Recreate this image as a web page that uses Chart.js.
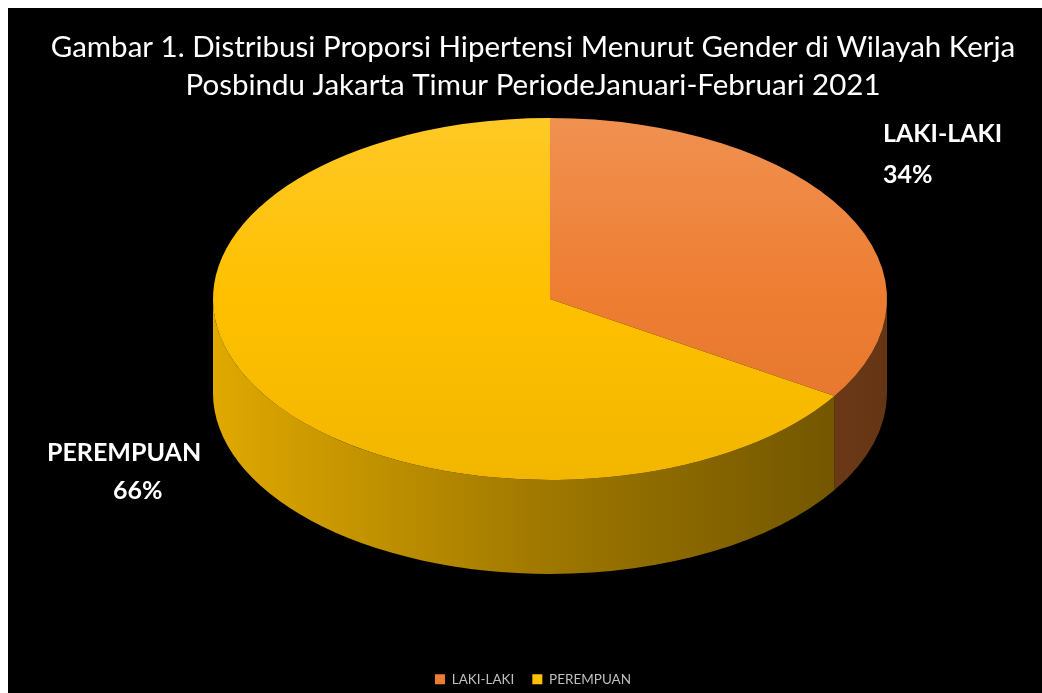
<!DOCTYPE html>
<html>
<head>
<meta charset="utf-8">
<script src="https://cdn.jsdelivr.net/npm/chart.js@4.4.1/dist/chart.umd.min.js"></script>
<style>
    html, body { margin: 0; padding: 0; background: #fff; }
    #wrap { position: absolute; left: 8px; top: 8px; width: 1034px; height: 685px; background: #000; }
</style>
</head>
<body>
<div id="wrap"><canvas id="pie" width="1034" height="685"></canvas></div>
<script>
// Data
const genders = ['LAKI-LAKI', 'PEREMPUAN'];
const shares = [34, 66];
const sliceColors = ['#ED7D31', '#FFC000'];
const titleLines = [
    'Gambar 1. Distribusi Proporsi Hipertensi Menurut Gender di Wilayah Kerja',
    'Posbindu Jakarta Timur PeriodeJanuari-Februari 2021'
];

// Look of the tilted pie
const PIE_RADIUS = 337;
const PIE_X = 542;      // centre of the top face on the canvas
const PIE_Y = 291;
const TILT = 0.537;     // vertical squash of the top face
const DEPTH = 94;       // height of the side wall

function rgb(hex) {
    const n = parseInt(hex.slice(1), 16);
    return [(n >> 16) & 255, (n >> 8) & 255, n & 255];
}

function shade(hex, f) {
    const c = rgb(hex).map(v => Math.round(v * f));
    return 'rgb(' + c.join(',') + ')';
}

function tint(hex, f) {
    const c = rgb(hex).map(v => Math.round(v + (255 - v) * f));
    return 'rgb(' + c.join(',') + ')';
}

// Vertical gradient for the top face of each slice
function topFill(c) {
    const base = sliceColors[c.dataIndex];
    const area = c.chart.chartArea;
    if (!area) return base;
    const cy = (area.top + area.bottom) / 2;
    const g = c.chart.ctx.createLinearGradient(0, cy - PIE_RADIUS, 0, cy + PIE_RADIUS);
    g.addColorStop(0, tint(base, 0.15));
    g.addColorStop(0.5, base);
    g.addColorStop(1, shade(base, 0.95));
    return g;
}

// Squash the pie into an ellipse and draw its side wall under the slices
const tiltPlugin = {
    id: 'tilt',
    beforeDatasetsDraw(chart) {
        const arcs = chart.getDatasetMeta(0).data;
        if (!arcs.length) return;
        const ctx = chart.ctx;
        const cx = arcs[0].x, cy = arcs[0].y;
        const R = arcs[0].outerRadius;
        const drop = DEPTH / TILT;

        ctx.save();
        ctx.translate(PIE_X, PIE_Y);
        ctx.scale(1, TILT);
        ctx.translate(-cx, -cy);

        arcs.forEach((arc, i) => {
            const grad = ctx.createLinearGradient(cx - R, 0, cx + R, 0);
            grad.addColorStop(0, shade(sliceColors[i], 0.88));
            grad.addColorStop(0.5, shade(sliceColors[i], 0.62));
            grad.addColorStop(1, shade(sliceColors[i], 0.42));
            // only the front half (0..PI) of the wall can be seen
            [-2 * Math.PI, 0, 2 * Math.PI].forEach(k => {
                const a1 = Math.max(arc.startAngle, k);
                const a2 = Math.min(arc.endAngle, k + Math.PI);
                if (a2 <= a1) return;
                ctx.beginPath();
                ctx.arc(cx, cy, R, a1, a2);
                ctx.arc(cx, cy + drop, R, a2, a1, true);
                ctx.closePath();
                ctx.fillStyle = grad;
                ctx.fill();
            });
        });
    },
    afterDatasetsDraw(chart) {
        chart.ctx.restore();
    }
};

// Category name and percentage next to each slice
const sliceLabels = {
    id: 'sliceLabels',
    afterDraw(chart) {
        const ctx = chart.ctx;
        const total = shares.reduce((a, b) => a + b, 0);
        const spots = [
            {x: 875, y: 126, px: 875, py: 167},
            {x: 39, y: 445, px: 105, py: 483}
        ];
        ctx.save();
        ctx.fillStyle = '#fff';
        ctx.font = 'bold 25px Lato';
        ctx.textAlign = 'left';
        ctx.textBaseline = 'middle';
        genders.forEach((g, i) => {
            const s = spots[i];
            ctx.fillText(g, s.x, s.y);
            ctx.fillText(Math.round(shares[i] / total * 100) + '%', s.px, s.py);
        });
        ctx.restore();
    }
};

new Chart(document.getElementById('pie'), {
    type: 'pie',
    data: {
        labels: genders,
        datasets: [{
            data: shares,
            backgroundColor: topFill,
            borderWidth: 0,
            radius: PIE_RADIUS,
            clip: false
        }]
    },
    options: {
        responsive: false,
        animation: false,
        devicePixelRatio: 1,
        layout: {
            padding: {left: 16, right: 0, top: 0, bottom: -3}
        },
        plugins: {
            title: {
                display: true,
                text: titleLines,
                color: '#fff',
                font: {family: 'Lato', size: 29.5, weight: 'normal', lineHeight: 1.29},
                padding: {top: 20, bottom: 10}
            },
            legend: {
                position: 'bottom',
                labels: {
                    color: '#bfbfbf',
                    font: {family: 'Lato', size: 13.5},
                    boxWidth: 10,
                    boxHeight: 10,
                    padding: 18,
                    generateLabels: () => genders.map((g, i) => ({
                        text: g,
                        fillStyle: sliceColors[i],
                        strokeStyle: sliceColors[i],
                        lineWidth: 0,
                        fontColor: '#bfbfbf',
                        hidden: false,
                        index: i
                    }))
                }
            },
            tooltip: {enabled: false}
        }
    },
    plugins: [tiltPlugin, sliceLabels]
});
</script>
</body>
</html>
